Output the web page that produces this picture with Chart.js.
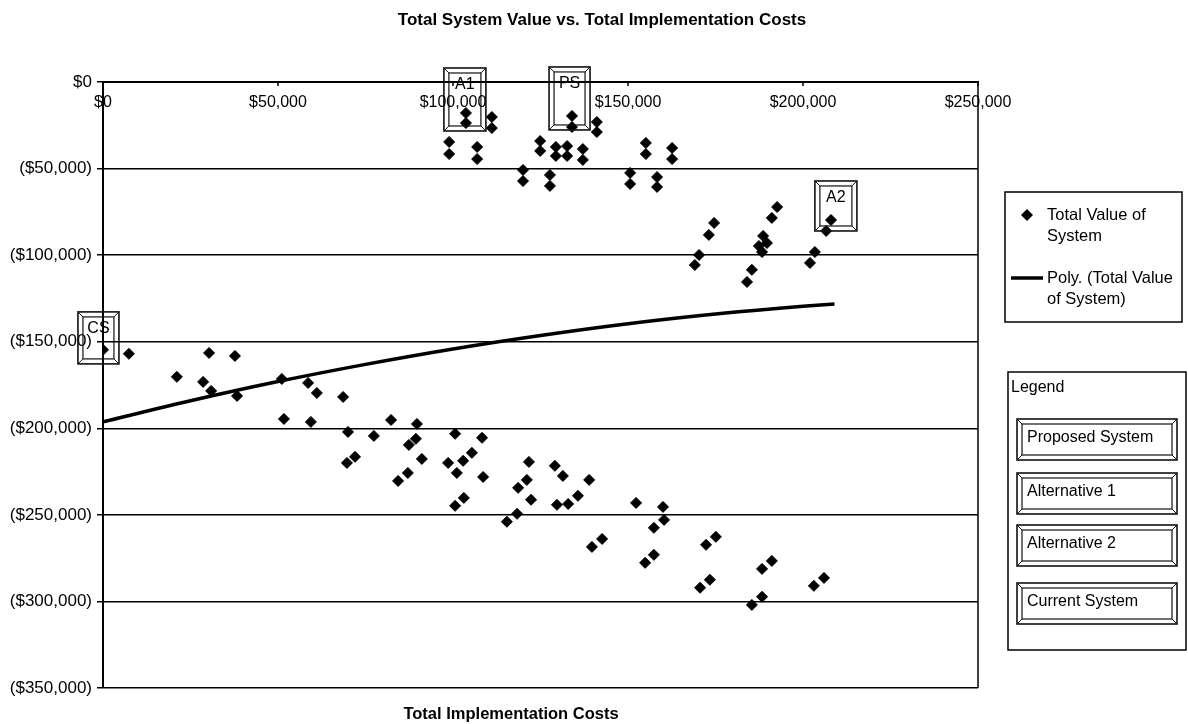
<!DOCTYPE html>
<html>
<head>
<meta charset="utf-8">
<title>Total System Value vs. Total Implementation Costs</title>
<script src="https://cdn.jsdelivr.net/npm/chart.js@4"></script>
<style>
  html, body { margin: 0; padding: 0; background: #fff; }
</style>
</head>
<body>
<canvas id="Chart" width="1188" height="724"></canvas>
<script>
// scatter points (cost, value)
const implementationCost = [
  98900, 98900, 103700, 103700, 106900, 106900, 111100, 111100,
  120000, 120000, 124900, 124900, 127700, 127700, 129400, 129400,
  132600, 132600, 134000, 134000, 137100, 137100, 141100, 141100,
  150600, 150600, 155100, 155100, 158300, 158300, 162600, 162600,
  170300, 169100, 174600, 173100, 185400, 184000, 188600, 187400,
  189700, 188300, 192600, 191100, 203400, 202000, 208000, 206600,
  0, 7400, 30300, 37700, 21100, 28600, 30900, 38300,
  51100, 51700, 58600, 61100, 68600, 59400, 70000, 77400,
  82300, 89700, 69700, 72000, 87400, 89400, 91100, 84300,
  87100, 100600, 108300, 98600, 101100, 102900, 105400, 108600,
  100600, 103100, 121700, 129100, 131400, 138900, 118600, 121100,
  122300, 129700, 132900, 135700, 115400, 118300, 152300, 160000,
  157400, 160300, 139700, 142600, 154900, 157400, 172300, 175100,
  170600, 173400, 188300, 191100, 203100, 206000, 185400, 188300,
];
const systemValue = [
  -34600, -41600, -17900, -23700, -37500, -44500, -20200, -26600,
  -50800, -57200, -34100, -39800, -53700, -60000, -37500, -42700,
  -37000, -42700, -19600, -26000, -38700, -45000, -23100, -28900,
  -52500, -58900, -35200, -41600, -54900, -60600, -38100, -44500,
  -99900, -105700, -81400, -88300, -108500, -115500, -88900, -94700,
  -93000, -98200, -72200, -78500, -98200, -104500, -79700, -86000,
  -154700, -157000, -156500, -158200, -170300, -173200, -178400, -181300,
  -171500, -194600, -173800, -179600, -181900, -196300, -202100, -204400,
  -195200, -197500, -220000, -216500, -209600, -206100, -217700, -230400,
  -225800, -203200, -205500, -220000, -225800, -218800, -214200, -228100,
  -244800, -240200, -219400, -221700, -227500, -229800, -234400, -229800,
  -241300, -244200, -243700, -239000, -254000, -249400, -243100, -245400,
  -257500, -252900, -268500, -263900, -277700, -273100, -267300, -262700,
  -292100, -287500, -281200, -276600, -291000, -286400, -302000, -297300,
];

// polynomial trend line
const trendCost = [0, 25000, 50000, 75000, 100000, 125000, 150000, 175000, 200000, 209000];
const trendValue = [-196300, -184100, -173000, -163100, -154200, -146400, -139600, -134000, -129500, -128200];

// boxed labels on the plot
const markerLabels = ["CS", "A1", "PS", "A2"];
const markerCost = [-1300, 103400, 133300, 209400];
const markerValue = [-147800, -10100, -9500, -71600];

const legendButtons = ["Proposed System", "Alternative 1", "Alternative 2", "Current System"];

const FONT = "'Liberation Sans', Arial, Helvetica, sans-serif";
Chart.defaults.font.family = FONT;
Chart.defaults.color = "#000";

const money = (v) => "$" + Math.abs(v).toLocaleString("en-US");

function bevelBox(ctx, x0, y0, w, h, inset = 5) {
  ctx.save();
  ctx.strokeStyle = "#111";
  ctx.lineWidth = 1.6;
  ctx.strokeRect(x0, y0, w, h);
  ctx.lineWidth = 1.2;
  ctx.strokeRect(x0 + inset, y0 + inset, w - 2 * inset, h - 2 * inset);
  ctx.lineWidth = 1;
  ctx.beginPath();
  ctx.moveTo(x0, y0); ctx.lineTo(x0 + inset, y0 + inset);
  ctx.moveTo(x0 + w, y0); ctx.lineTo(x0 + w - inset, y0 + inset);
  ctx.moveTo(x0, y0 + h); ctx.lineTo(x0 + inset, y0 + h - inset);
  ctx.moveTo(x0 + w, y0 + h); ctx.lineTo(x0 + w - inset, y0 + h - inset);
  ctx.stroke();
  ctx.restore();
}

const markerSize = { CS: [41, 52], A1: [42, 63], PS: [41, 63], A2: [42, 50] };

const decor = {
  id: "decor",
  afterDatasetsDraw(chart) {
    const { ctx, scales: { x, y } } = chart;
    ctx.save();
    ctx.font = "16px " + FONT;
    ctx.fillStyle = "#000";
    ctx.textAlign = "center";
    ctx.textBaseline = "middle";
    markerLabels.forEach((label, i) => {
      const [w, h] = markerSize[label];
      const cx = x.getPixelForValue(markerCost[i]);
      const cy = y.getPixelForValue(markerValue[i]);
      bevelBox(ctx, cx - w / 2, cy - h / 2, w, h);
      ctx.fillText(label, cx, cy - h / 2 + 17);
    });
    ctx.restore();
  },
  afterDraw(chart) {
    const { ctx, chartArea: area, scales: { x } } = chart;
    ctx.save();
    ctx.fillStyle = "#000";
    ctx.strokeStyle = "#000";

    // right edge of the plot
    ctx.lineWidth = 1.5;
    ctx.beginPath();
    ctx.moveTo(area.right, area.top);
    ctx.lineTo(area.right, area.bottom);
    ctx.stroke();

    // x tick labels sit under the axis line (axis crosses at $0)
    ctx.font = "16px " + FONT;
    ctx.textAlign = "center";
    ctx.textBaseline = "middle";
    x.ticks.forEach((t) => {
      const px = x.getPixelForValue(t.value);
      ctx.beginPath();
      ctx.moveTo(px, area.top);
      ctx.lineTo(px, area.top + 4);
      ctx.stroke();
      ctx.fillText(t.label, px, area.top + 21);
    });

    // titles
    ctx.font = "bold 17px " + FONT;
    ctx.fillText("Total System Value vs. Total Implementation Costs", 602, 20);
    ctx.font = "bold 16.5px " + FONT;
    ctx.fillText("Total Implementation Costs", 511, 714);

    // series legend
    ctx.lineWidth = 1.5;
    ctx.strokeRect(1005, 192, 177, 130);
    ctx.beginPath();
    ctx.moveTo(1027, 209); ctx.lineTo(1033, 215); ctx.lineTo(1027, 221); ctx.lineTo(1021, 215);
    ctx.closePath();
    ctx.fill();
    ctx.lineWidth = 3.5;
    ctx.beginPath();
    ctx.moveTo(1011, 278); ctx.lineTo(1043, 278);
    ctx.stroke();
    ctx.font = "16.5px " + FONT;
    ctx.textAlign = "left";
    ctx.fillText("Total Value of", 1047, 215);
    ctx.fillText("System", 1047, 236);
    ctx.fillText("Poly. (Total Value", 1047, 278);
    ctx.fillText("of System)", 1047, 299);

    // boxed "Legend" panel
    ctx.lineWidth = 1.5;
    ctx.strokeRect(1008, 372, 178, 278);
    ctx.font = "16px " + FONT;
    ctx.fillText("Legend", 1011, 388);
    legendButtons.forEach((text, i) => {
      const top = [419, 473, 525, 583][i];
      bevelBox(ctx, 1017, top, 160, 41, 5);
      ctx.fillText(text, 1027, top + 19);
    });
    ctx.restore();
  },
};

new Chart(document.getElementById("Chart"), {
  type: "scatter",
  data: {
    datasets: [
      {
        label: "Poly. (Total Value of System)",
        data: trendCost.map((c, i) => ({ x: c, y: trendValue[i] })),
        showLine: true,
        borderColor: "#000",
        borderWidth: 3.5,
        pointRadius: 0,
        cubicInterpolationMode: "monotone",
      },
      {
        label: "Total Value of System",
        data: implementationCost.map((c, i) => ({ x: c, y: systemValue[i] })),
        pointStyle: "rectRot",
        pointRadius: 5.5,
        backgroundColor: "#000",
        borderColor: "#000",
        borderWidth: 1,
      },
    ],
  },
  options: {
    responsive: false,
    animation: false,
    layout: { padding: { left: 0, top: 82, right: 210, bottom: 36 } },
    plugins: { legend: { display: false }, tooltip: { enabled: false } },
    scales: {
      x: {
        type: "linear",
        position: "top",
        min: 0,
        max: 250000,
        afterFit: (s) => { s.height = 0; },
        ticks: { display: false, stepSize: 50000, callback: (v) => money(v) },
        grid: { display: false },
        border: { color: "#000", width: 2 },
      },
      y: {
        type: "linear",
        min: -350000,
        max: 0,
        afterFit: (s) => { s.width = 103; },
        ticks: {
          stepSize: 50000,
          padding: 5,
          color: "#000",
          font: { size: 17 },
          callback: (v) => (v === 0 ? "$0" : "(" + money(v) + ")"),
        },
        grid: { color: "#000", lineWidth: 1.5, tickLength: 6 },
        border: { color: "#000", width: 2 },
      },
    },
  },
  plugins: [decor],
});
</script>
</body>
</html>
